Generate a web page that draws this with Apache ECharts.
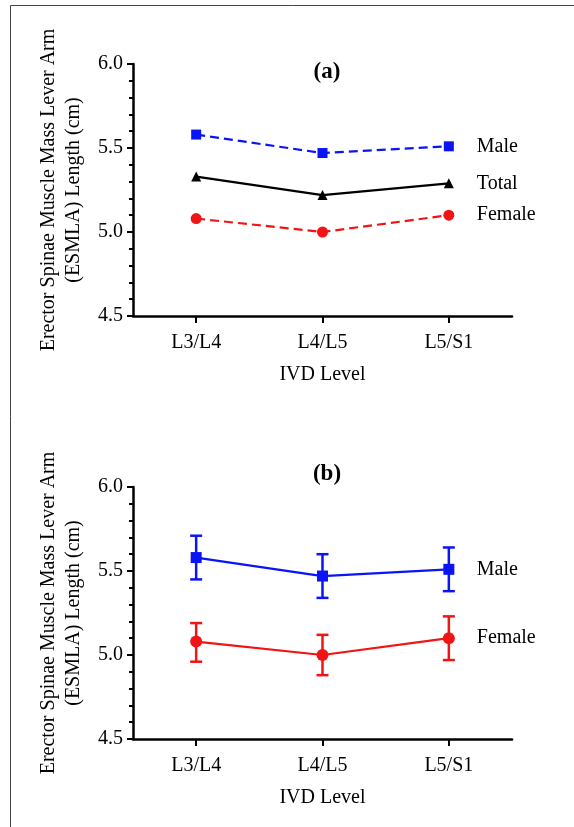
<!DOCTYPE html>
<html>
<head>
<meta charset="utf-8">
<script src="https://cdn.jsdelivr.net/npm/echarts@6/dist/echarts.min.js"></script>
<style>
  html, body { margin: 0; padding: 0; background: #fff; }
  #chart { width: 574px; height: 827px; }
</style>
</head>
<body>
<div id="chart"></div>
<script>
// IVD levels along the x axis
const levels = ['L3/L4', 'L4/L5', 'L5/S1'];

// Panel (a): mean ESMLA length (cm)
const maleMean = [5.58, 5.47, 5.51];
const totalMean = [5.33, 5.22, 5.29];
const femaleMean = [5.08, 5.00, 5.10];

// Panel (b): mean with error bar bounds (cm)
const maleLow = [5.45, 5.34, 5.38];
const maleHigh = [5.71, 5.60, 5.64];
const femaleLow = [4.96, 4.88, 4.97];
const femaleHigh = [5.19, 5.12, 5.23];

const yTicks = [4.5, 5.0, 5.5, 6.0];

const SERIF = '"Liberation Serif", "Times New Roman", serif';
const BLUE = '#0a14f5';
const RED = '#f01414';
const BLACK = '#000';

const chart = echarts.init(document.getElementById('chart'), null, { renderer: 'canvas' });

function yAxisDef(gridIndex) {
  return {
    type: 'value', gridIndex,
    min: yTicks[0], max: yTicks[yTicks.length - 1], interval: 0.5,
    name: 'Erector Spinae Muscle Mass Lever Arm\n(ESMLA) Length (cm)',
    nameLocation: 'middle', nameRotate: 90, nameGap: 47,
    nameTextStyle: { fontFamily: SERIF, fontSize: 20, color: BLACK, lineHeight: 25 },
    axisLine: { show: true, lineStyle: { color: BLACK, width: 2.5 } },
    axisTick: { show: true, length: 6, lineStyle: { color: BLACK, width: 2 } },
    minorTick: { show: true, splitNumber: 5, length: 4, lineStyle: { color: BLACK, width: 2 } },
    splitLine: { show: false },
    axisLabel: { fontFamily: SERIF, fontSize: 20, color: BLACK, margin: 10,
      formatter: v => v.toFixed(1) }
  };
}

function xAxisDef(gridIndex) {
  return {
    type: 'category', gridIndex, data: levels, boundaryGap: true,
    name: 'IVD Level', nameLocation: 'middle', nameGap: 49,
    nameTextStyle: { fontFamily: SERIF, fontSize: 20, color: BLACK },
    axisLine: { show: true, lineStyle: { color: BLACK, width: 2.5 } },
    axisTick: { show: true, alignWithLabel: true, length: 7, lineStyle: { color: BLACK, width: 2 } },
    splitLine: { show: false },
    axisLabel: { fontFamily: SERIF, fontSize: 20, color: BLACK, margin: 17 }
  };
}

function lineSeries(name, data, color, symbol, dashed, axisIndex, size) {
  return {
    name, type: 'line', xAxisIndex: axisIndex, yAxisIndex: axisIndex,
    data, symbol, symbolSize: size, showSymbol: true,
    lineStyle: { color, width: 2.2, type: dashed ? [9, 5] : 'solid' },
    itemStyle: { color },
    endLabel: { show: true, formatter: name, distance: 28,
      fontFamily: SERIF, fontSize: 20, color: BLACK },
    z: 3, animation: false
  };
}

function errorSeries(low, high, color, axisIndex) {
  return {
    type: 'custom', xAxisIndex: axisIndex, yAxisIndex: axisIndex,
    data: levels.map((c, i) => [i, low[i], high[i]]),
    renderItem: (params, api) => {
      const top = api.coord([api.value(0), api.value(2)]);
      const bot = api.coord([api.value(0), api.value(1)]);
      const hw = 6;
      const style = { stroke: color, lineWidth: 2.5, fill: null };
      return {
        type: 'group',
        children: [
          { type: 'line', shape: { x1: top[0], y1: top[1], x2: bot[0], y2: bot[1] }, style },
          { type: 'line', shape: { x1: top[0] - hw, y1: top[1], x2: top[0] + hw, y2: top[1] }, style },
          { type: 'line', shape: { x1: bot[0] - hw, y1: bot[1], x2: bot[0] + hw, y2: bot[1] }, style }
        ]
      };
    },
    z: 2, animation: false
  };
}

chart.setOption({
  backgroundColor: '#fff',
  animation: false,
  title: [
    { text: '(a)', left: 322, top: 56, textAlign: 'center',
      textStyle: { fontFamily: SERIF, fontSize: 23, fontWeight: 'bold', color: BLACK } },
    { text: '(b)', left: 322, top: 458, textAlign: 'center',
      textStyle: { fontFamily: SERIF, fontSize: 23, fontWeight: 'bold', color: BLACK } }
  ],
  grid: [
    { left: 133, top: 64, width: 379, height: 252 },
    { left: 133, top: 487, width: 379, height: 252 }
  ],
  xAxis: [xAxisDef(0), xAxisDef(1)],
  yAxis: [yAxisDef(0), yAxisDef(1)],
  series: [
    lineSeries('Male', maleMean, BLUE, 'rect', true, 0, 10),
    lineSeries('Total', totalMean, BLACK, 'triangle', false, 0, 10),
    lineSeries('Female', femaleMean, RED, 'circle', true, 0, 11),
    errorSeries(maleLow, maleHigh, BLUE, 1),
    errorSeries(femaleLow, femaleHigh, RED, 1),
    lineSeries('Male', maleMean, BLUE, 'rect', false, 1, 11),
    lineSeries('Female', femaleMean, RED, 'circle', false, 1, 12)
  ],
  graphic: [
    { type: 'polyline', silent: true,
      shape: { points: [[10.5, 827], [10.5, 5.5], [574, 5.5]] },
      style: { stroke: '#444', lineWidth: 1, fill: null } }
  ]
});
</script>
</body>
</html>
